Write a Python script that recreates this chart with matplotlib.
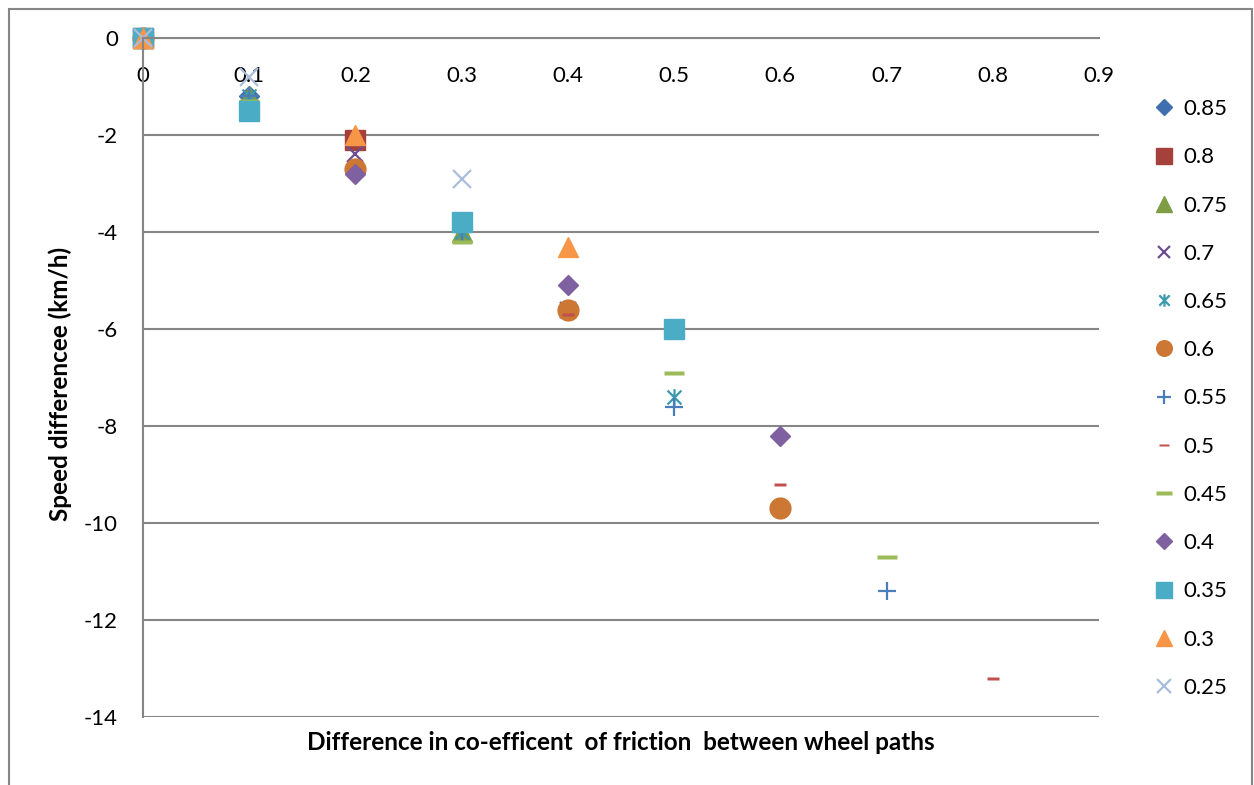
"""
Speed difference vs. difference in friction coefficient between wheel paths.
"""

import numpy as np
import matplotlib
matplotlib.use("Agg")
import matplotlib.pyplot as plt
from matplotlib.path import Path
from matplotlib.patches import Rectangle

plt.rcParams["font.family"] = ["Lato", "DejaVu Sans"]
plt.rcParams["axes.unicode_minus"] = False

# friction level of each series (legend labels)
labels = ["0.85", "0.8", "0.75", "0.7", "0.65", "0.6", "0.55",
          "0.5", "0.45", "0.4", "0.35", "0.3", "0.25"]

# x = difference in co-efficient of friction, y = speed difference (km/h)
x_085 = [0, 0.1];                 y_085 = [0, -1.2]
x_080 = [0, 0.2];                 y_080 = [0, -2.1]
x_075 = [0, 0.1, 0.3];            y_075 = [0, -1.2, -4.0]
x_070 = [0, 0.2, 0.4];            y_070 = [0, -2.4, -5.6]
x_065 = [0, 0.1, 0.3, 0.5];       y_065 = [0, -1.2, -4.0, -7.4]
x_060 = [0, 0.2, 0.4, 0.6];       y_060 = [0, -2.7, -5.6, -9.7]
x_055 = [0, 0.1, 0.3, 0.5, 0.7];  y_055 = [0, -1.2, -4.0, -7.6, -11.4]
x_050 = [0, 0.2, 0.4, 0.6, 0.8];  y_050 = [0, -2.7, -5.7, -9.2, -13.2]
x_045 = [0, 0.1, 0.3, 0.5, 0.7];  y_045 = [0, -1.3, -4.2, -6.9, -10.7]
x_040 = [0, 0.2, 0.4, 0.6];       y_040 = [0, -2.8, -5.1, -8.2]
x_035 = [0, 0.1, 0.3, 0.5];       y_035 = [0, -1.5, -3.8, -6.0]
x_030 = [0, 0.2, 0.4];            y_030 = [0, -2.0, -4.3]
x_025 = [0, 0.1, 0.3];            y_025 = [0, -0.8, -2.9]

xs = [x_085, x_080, x_075, x_070, x_065, x_060, x_055,
      x_050, x_045, x_040, x_035, x_030, x_025]
ys = [y_085, y_080, y_075, y_070, y_065, y_060, y_055,
      y_050, y_045, y_040, y_035, y_030, y_025]

# custom Excel-like markers
dash = Path([(-0.5, -0.12), (0.5, -0.12), (0.5, 0.12), (-0.5, 0.12), (-0.5, -0.12)],
            [Path.MOVETO, Path.LINETO, Path.LINETO, Path.LINETO, Path.CLOSEPOLY])
star = Path([(-0.5, -0.5), (0.5, 0.5), (-0.5, 0.5), (0.5, -0.5), (0, -0.6), (0, 0.6)],
            [Path.MOVETO, Path.LINETO, Path.MOVETO, Path.LINETO, Path.MOVETO, Path.LINETO])

# (marker, colour, size, filled)
styles = [
    ("D", "#3F6FAE", 10.5, True),
    ("s", "#A5403D", 15, True),
    ("^", "#7F9D45", 14.5, True),
    ("x", "#6B4E90", 11, False),
    (star, "#3C9AAF", 12, False),
    ("o", "#CC7733", 15, True),
    ("+", "#4A7EBB", 13, False),
    (dash, "#C0504D", 9, True),
    (dash, "#9BBB59", 15, True),
    ("D", "#7F60A1", 10.5, True),
    ("s", "#4BACC6", 15, True),
    ("^", "#F79646", 14.5, True),
    ("x", "#A9BDDC", 13, False),
]

W, H = 1254, 785
fig = plt.figure(figsize=(W / 100, H / 100), dpi=100)
ax = fig.add_axes([143 / W, 1 - 717 / H, (1099 - 143) / W, (717 - 38) / H])

for x, y, lab, (mk, col, ms, filled) in zip(xs, ys, labels, styles):
    if filled:
        ax.plot(x, y, linestyle="none", marker=mk, ms=ms, color=col,
                mec=col if mk is not dash else "none", label=lab, clip_on=False)
    else:
        ax.plot(x, y, linestyle="none", marker=mk, ms=ms, color=col,
                mew=1.6, label=lab, clip_on=False)

ax.set_xlim(0, 0.9)
ax.set_ylim(-14, 0)
ax.set_xticks(np.arange(0, 0.91, 0.1))
ax.set_xticklabels(["0", "0.1", "0.2", "0.3", "0.4", "0.5", "0.6", "0.7", "0.8", "0.9"])
ax.set_yticks(np.arange(-14, 1, 2))

for s in ["top", "right"]:
    ax.spines[s].set_visible(False)
ax.spines["bottom"].set_position(("data", 0))
ax.spines["bottom"].set_color("#868686")
ax.spines["bottom"].set_linewidth(1.5)
ax.spines["left"].set_color("#868686")
ax.spines["left"].set_linewidth(1.5)
ax.set_axisbelow(True)
ax.grid(axis="y", color="#868686", lw=1.5)
ax.tick_params(axis="x", length=0, pad=20, labelsize=16)
ax.tick_params(axis="y", length=0, pad=18, labelsize=16)

ax.set_xlabel("Difference in co-efficent  of friction  between wheel paths",
              fontsize=17.5, fontweight="bold")
ax.xaxis.set_label_coords(0.5, -0.02)
ax.set_ylabel("Speed differencee (km/h)", fontsize=17.5, fontweight="bold")
ax.yaxis.set_label_coords(-0.074, 0.49)

ax.legend(loc="upper left", bbox_to_anchor=(1142 / W, 1 - 88 / H),
          bbox_transform=fig.transFigure, frameon=False, fontsize=16,
          markerscale=0.75, handlelength=1.0, handletextpad=0.35,
          labelspacing=1.27, borderpad=0)

# outer chart frame
fig.add_artist(Rectangle((9 / W, -0.05), (1252 - 9) / W, 1.05 - 9 / H,
                         transform=fig.transFigure, fill=False,
                         edgecolor="#868686", lw=1.5))

fig.savefig("out.png", dpi=100)
